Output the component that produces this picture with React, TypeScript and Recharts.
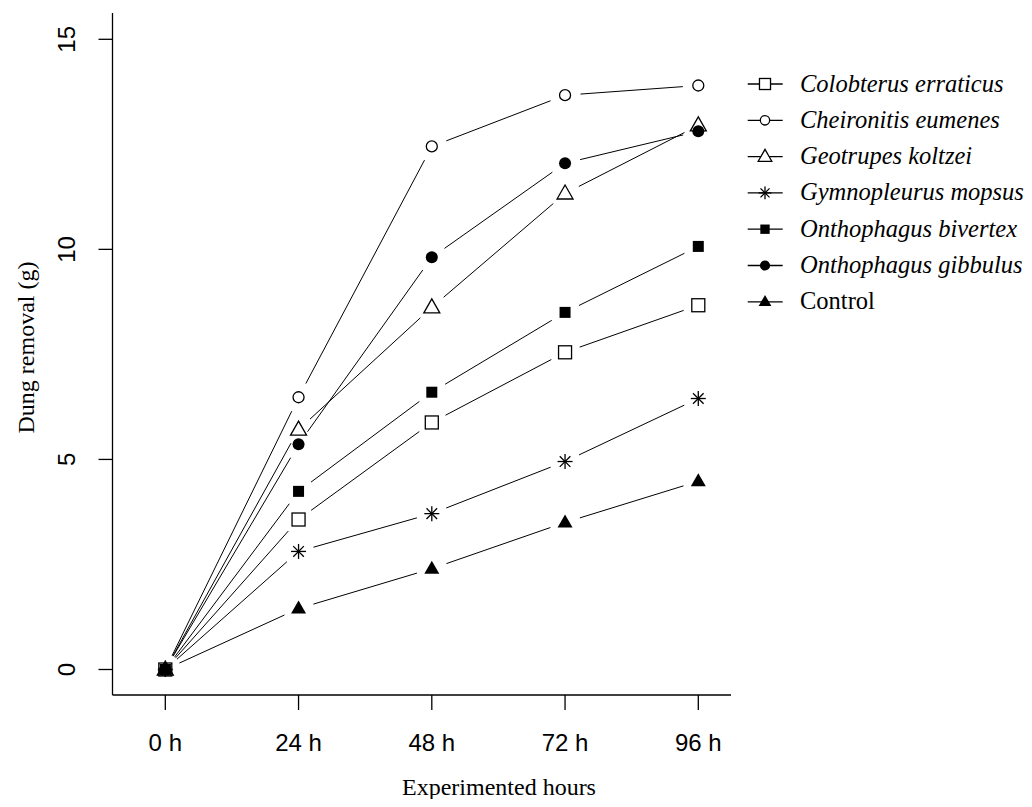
import { ComposedChart, Scatter, XAxis, YAxis } from "recharts";

const hours = [0, 24, 48, 72, 96];
const yTicks = [0, 5, 10, 15];

const colobterus = [0, 3.57, 5.88, 7.55, 8.67];
const cheironitis = [0, 6.48, 12.45, 13.67, 13.9];
const geotrupes = [0, 5.71, 8.62, 11.33, 12.95];
const gymnopleurus = [0, 2.81, 3.71, 4.95, 6.45];
const bivertex = [0, 4.24, 6.6, 8.5, 10.07];
const gibbulus = [0, 5.36, 9.81, 12.05, 12.81];
const control = [0, 1.45, 2.4, 3.5, 4.48];

type Kind =
  | "openSquare"
  | "openCircle"
  | "openTriangle"
  | "asterisk"
  | "square"
  | "circle"
  | "triangle";

type Serie = { key: string; label: string; italic: boolean; kind: Kind; values: number[] };

const series: Serie[] = [
  { key: "colobterus", label: "Colobterus erraticus", italic: true, kind: "openSquare", values: colobterus },
  { key: "cheironitis", label: "Cheironitis eumenes", italic: true, kind: "openCircle", values: cheironitis },
  { key: "geotrupes", label: "Geotrupes koltzei", italic: true, kind: "openTriangle", values: geotrupes },
  { key: "gymnopleurus", label: "Gymnopleurus mopsus", italic: true, kind: "asterisk", values: gymnopleurus },
  { key: "bivertex", label: "Onthophagus bivertex", italic: true, kind: "square", values: bivertex },
  { key: "gibbulus", label: "Onthophagus gibbulus", italic: true, kind: "circle", values: gibbulus },
  { key: "control", label: "Control", italic: false, kind: "triangle", values: control },
];

const data = hours.map((h, i) => {
  const row: { [k: string]: number } = { h };
  series.forEach((s) => {
    row[s.key] = s.values[i];
  });
  return row;
});

const SANS = "'Liberation Sans', Arial, sans-serif";
const SERIF = "'Liberation Serif', 'Times New Roman', serif";
const GAP = 15.5;

function Marker({ kind, cx, cy, s = 1 }: { kind: Kind; cx: number; cy: number; s?: number }) {
  const st = { stroke: "#000", strokeWidth: 1.3 };
  switch (kind) {
    case "openSquare":
      return <rect x={cx - 6.5 * s} y={cy - 6.5 * s} width={13 * s} height={13 * s} fill="#fff" {...st} />;
    case "openCircle":
      return <circle cx={cx} cy={cy} r={5.5 * s} fill="#fff" {...st} />;
    case "openTriangle":
      return (
        <polygon
          points={`${cx},${cy - 8.5 * s} ${cx - 8 * s},${cy + 5.5 * s} ${cx + 8 * s},${cy + 5.5 * s}`}
          fill="#fff"
          {...st}
        />
      );
    case "asterisk": {
      const r = 7.5 * s;
      const d = r * 0.7071;
      return (
        <g {...st}>
          <line x1={cx} y1={cy - r} x2={cx} y2={cy + r} />
          <line x1={cx - r} y1={cy} x2={cx + r} y2={cy} />
          <line x1={cx - d} y1={cy - d} x2={cx + d} y2={cy + d} />
          <line x1={cx - d} y1={cy + d} x2={cx + d} y2={cy - d} />
        </g>
      );
    }
    case "square":
      return <rect x={cx - 5.5 * s} y={cy - 5.5 * s} width={11 * s} height={11 * s} fill="#000" />;
    case "circle":
      return <circle cx={cx} cy={cy} r={6 * s} fill="#000" />;
    case "triangle":
      return (
        <polygon
          points={`${cx},${cy - 8 * s} ${cx - 7.5 * s},${cy + 5 * s} ${cx + 7.5 * s},${cy + 5 * s}`}
          fill="#000"
        />
      );
  }
  return null;
}

// previous point of each series, filled while the symbols are drawn in data order
const lastPoint: { [k: string]: { x: number; y: number } | null } = {};

// type="b" style: segment from the previous point with a gap round each point, then the symbol
const makeShape = (key: string, kind: Kind) => (props: any) => {
  const { cx, cy, payload } = props;
  const index = hours.indexOf(payload.h);
  let seg = null;
  const p = index > 0 ? lastPoint[key] : null;
  if (p) {
    const dx = cx - p.x;
    const dy = cy - p.y;
    const len = Math.sqrt(dx * dx + dy * dy);
    if (len > GAP * 2) {
      const ux = dx / len;
      const uy = dy / len;
      seg = (
        <line
          x1={p.x + ux * GAP}
          y1={p.y + uy * GAP}
          x2={cx - ux * GAP}
          y2={cy - uy * GAP}
          stroke="#000"
          strokeWidth={1}
        />
      );
    }
  }
  lastPoint[key] = { x: cx, y: cy };
  return (
    <g>
      {seg}
      <Marker kind={kind} cx={cx} cy={cy} />
    </g>
  );
};

const YTick = (props: any) => {
  const { x, y, payload } = props;
  const tx = x - 31.5;
  return (
    <text
      x={tx}
      y={y}
      transform={`rotate(-90, ${tx}, ${y})`}
      textAnchor="middle"
      dominantBaseline="central"
      fontFamily={SANS}
      fontSize={24}
      fill="#000"
    >
      {payload.value}
    </text>
  );
};

const XTick = (props: any) => {
  const { x, y, payload } = props;
  return (
    <text
      x={x}
      y={y + 32}
      textAnchor="middle"
      dominantBaseline="central"
      fontFamily={SANS}
      fontSize={24}
      fill="#000"
    >
      {`${payload.value} h`}
    </text>
  );
};

const W = 1016;
const H = 791;

export default function App() {
  return (
    <div style={{ position: "relative", width: W, height: H }}>
      <ComposedChart
        width={W}
        height={H}
        data={data}
        margin={{ top: 5, right: 293, left: 44.5, bottom: 44 }}
      >
        <XAxis
          dataKey="h"
          type="number"
          domain={[-9.51, 101.89]}
          ticks={hours}
          allowDataOverflow
          height={60}
          tickSize={15}
          tickMargin={0}
          tick={<XTick />}
          axisLine={{ stroke: "#000", strokeWidth: 1.3 }}
          tickLine={{ stroke: "#000", strokeWidth: 1.3 }}
        />
        <YAxis
          type="number"
          domain={[-0.607, 15.626]}
          ticks={yTicks}
          allowDataOverflow
          width={60}
          tickSize={14}
          tickMargin={0}
          tick={<YTick />}
          axisLine={{ stroke: "#000", strokeWidth: 1.3 }}
          tickLine={{ stroke: "#000", strokeWidth: 1.3 }}
        />
        {series.map((s) => (
          <Scatter
            key={s.key}
            dataKey={s.key}
            shape={makeShape(s.key, s.kind)}
            isAnimationActive={false}
          />
        ))}
      </ComposedChart>
      <svg
        width={W}
        height={H}
        style={{ position: "absolute", left: 0, top: 0, pointerEvents: "none" }}
      >
        <text
          x={26}
          y={339.5}
          transform="rotate(-90, 26, 339.5)"
          textAnchor="middle"
          fontFamily={SERIF}
          fontSize={24}
          fill="#000"
        >
          Dung removal (g)
        </text>
        <text x={491} y={787} textAnchor="middle" fontFamily={SERIF} fontSize={24} fill="#000">
          Experimented hours
        </text>
        {series.map((s, i) => {
          const y = 76 + i * 36.3;
          return (
            <g key={`lg-${s.key}`}>
              <line x1={739.7} y1={y} x2={774.7} y2={y} stroke="#000" strokeWidth={1.3} />
              <Marker kind={s.kind} cx={757} cy={y} s={0.85} />
              <text
                x={792}
                y={y + 7.5}
                fontFamily={SERIF}
                fontStyle={s.italic ? "italic" : "normal"}
                fontSize={24.5}
                fill="#000"
              >
                {s.label}
              </text>
            </g>
          );
        })}
      </svg>
    </div>
  );
}
